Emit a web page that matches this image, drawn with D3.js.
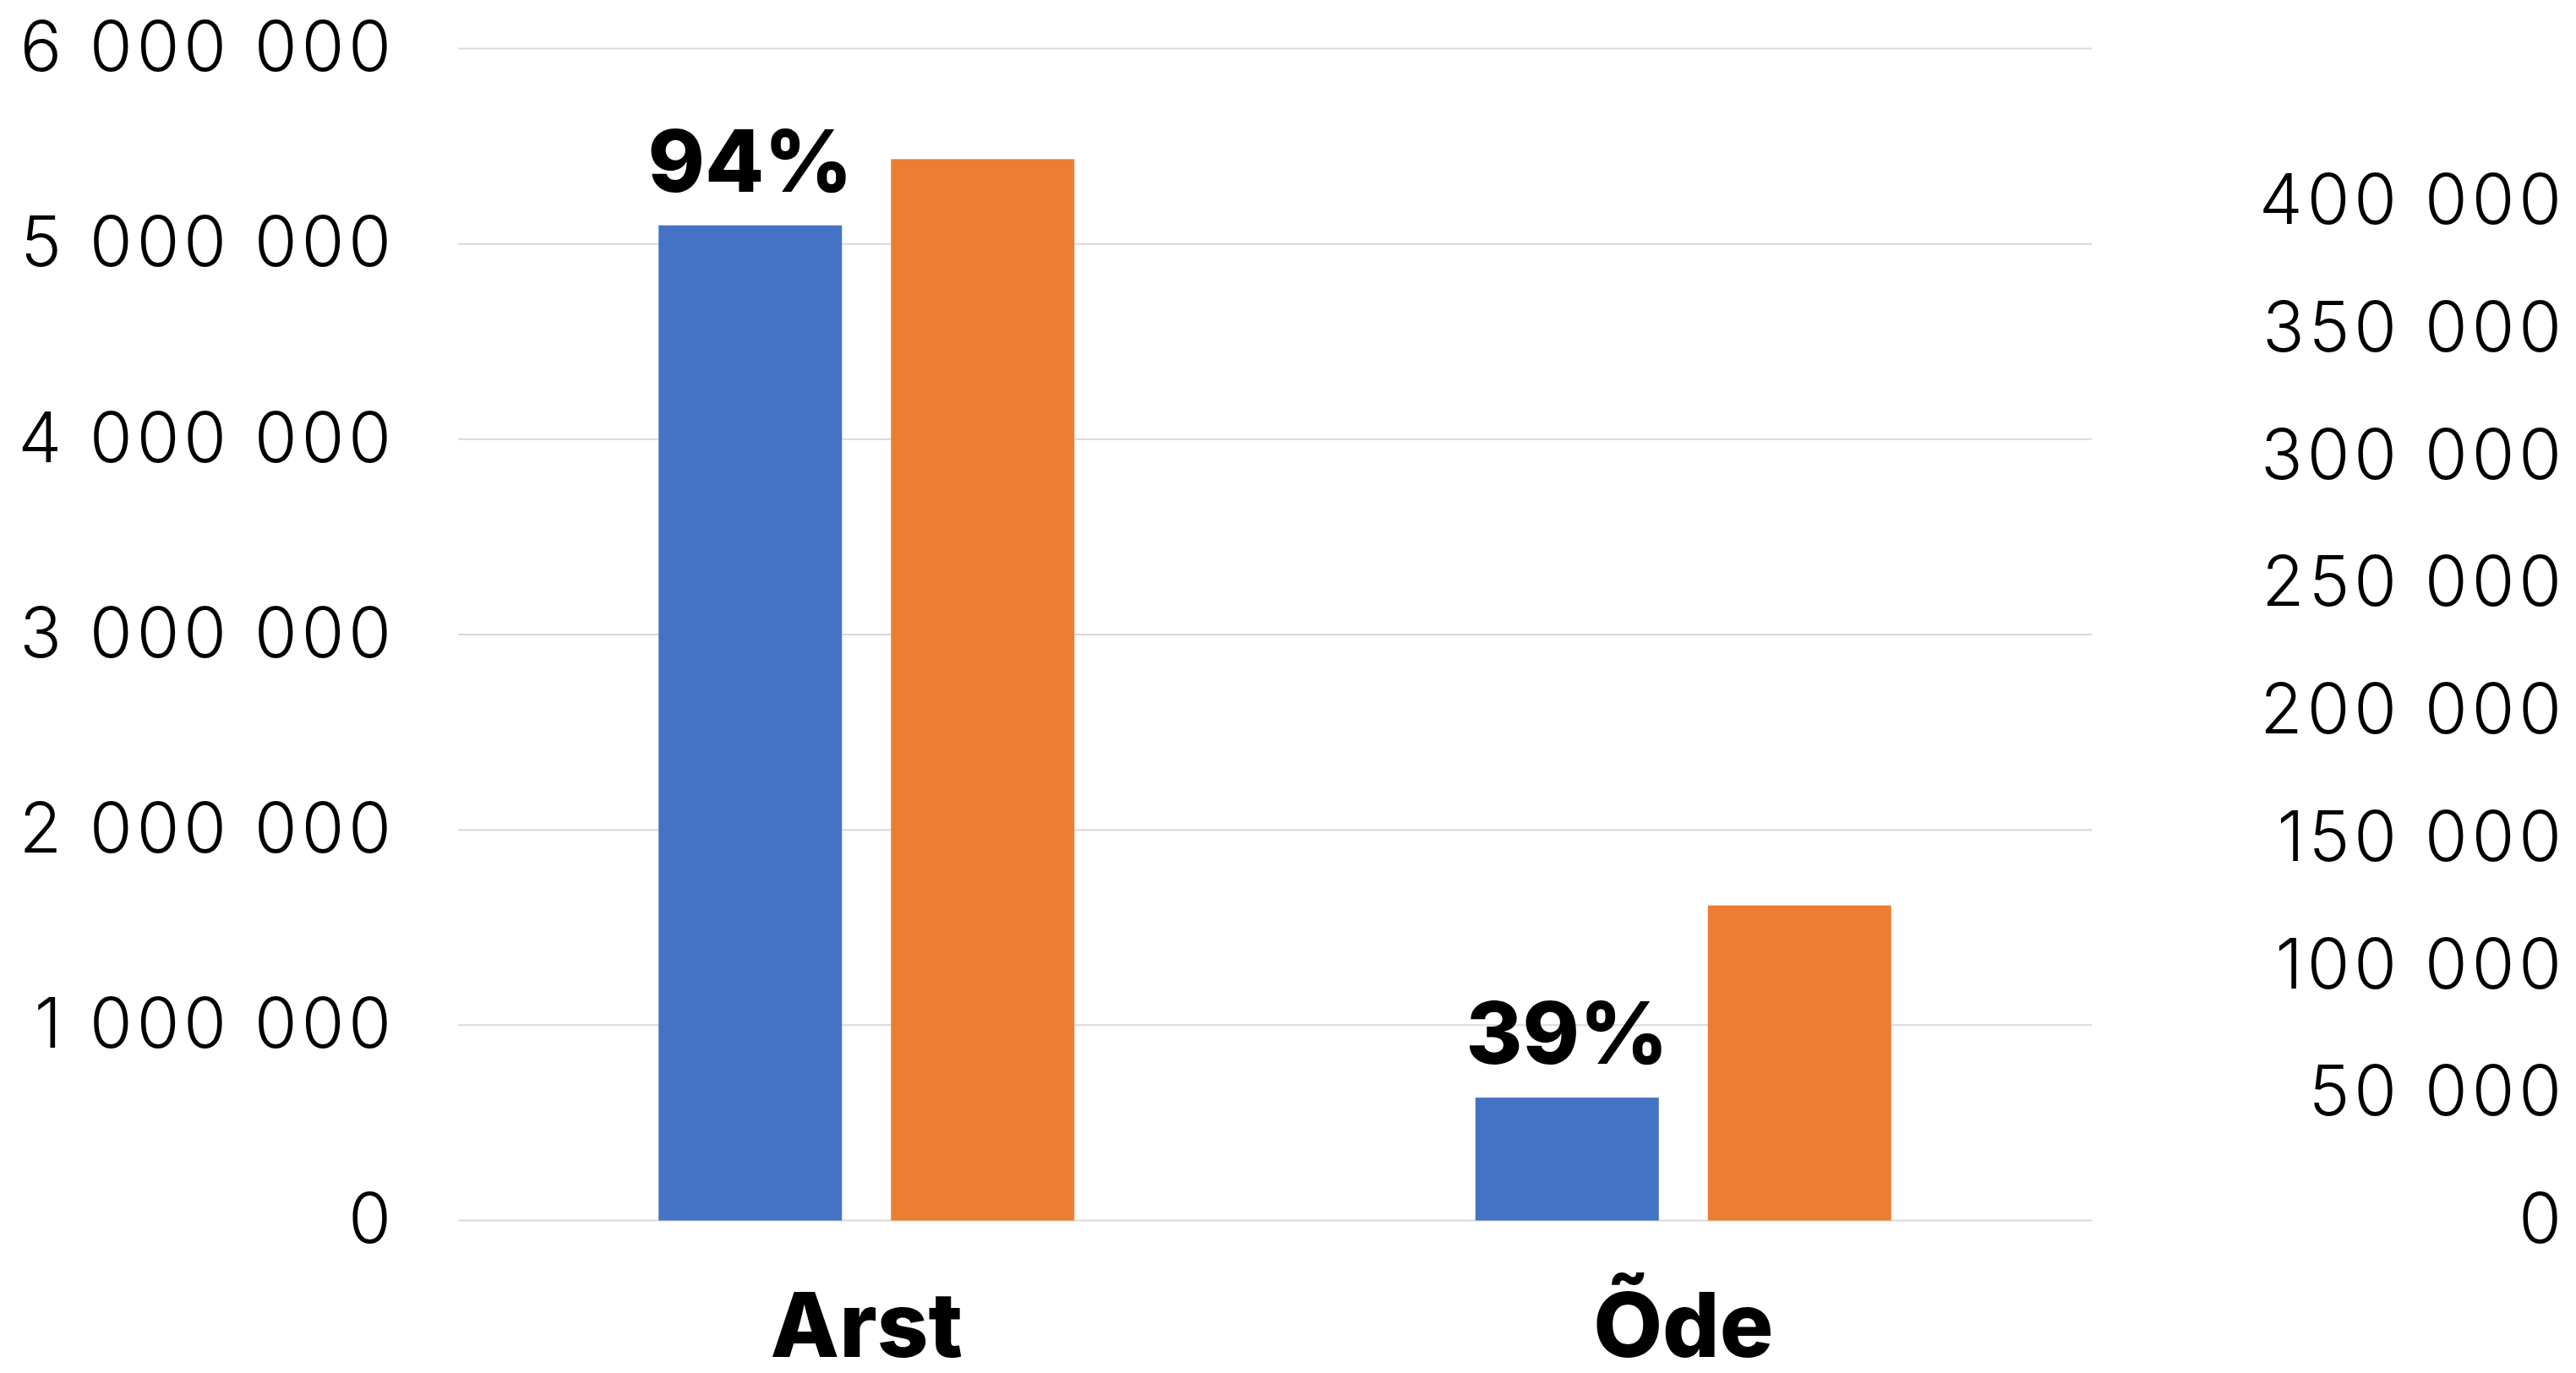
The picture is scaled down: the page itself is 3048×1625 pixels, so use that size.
<!DOCTYPE html>
<html>
<head>
<meta charset="utf-8">
<script src="https://cdn.jsdelivr.net/npm/d3@7"></script>
<style>
  html, body { margin: 0; padding: 0; background: #fff; }
  svg text { font-family: Inter, "Noto Sans", sans-serif; }
</style>
</head>
<body>
<div id="chart"></div>
<script>
const categories = ["Arst", "Õde"],
      seriesNames = ["a", "b"],
      seriesA = [5095000, 629000],
      seriesB = [5434000, 1613000],
      pctLabels = ["94%", "39%"],
      leftTicks = [0, 1000000, 2000000, 3000000, 4000000, 5000000, 6000000],
      rightTicks = [0, 50000, 100000, 150000, 200000, 250000, 300000, 350000, 400000];

const colors = {a: "#4472C4", b: "#ED7D31"};

const W = 3048, H = 1625;
const margin = {top: 57.5, right: 573, bottom: 180.5, left: 542};
const width = W - margin.left - margin.right,
      height = H - margin.top - margin.bottom;

const fmt = d3.formatLocale({decimal: ",", thousands: " ", grouping: [3], currency: ["", ""]}).format(",d");

const svg = d3.select("#chart").append("svg")
  .attr("width", W)
  .attr("height", H)
  .append("g")
  .attr("transform", `translate(${margin.left},${margin.top})`);

const x0 = d3.scaleBand().domain(categories).range([0, width]).padding(0);
const groupW = 492;
const x1 = d3.scaleBand().domain(seriesNames).range([0, groupW]).paddingInner(0.211).paddingOuter(0);
const groupOffset = (x0.bandwidth() - groupW) / 2;

const y = d3.scaleLinear().domain([0, 6000000]).range([height, 0]);
const y2 = d3.scaleLinear().domain([0, 460000]).range([height, 0]);

// gridlines
svg.append("g")
  .selectAll("line")
  .data(leftTicks)
  .enter()
  .append("line")
  .attr("x1", 0)
  .attr("x2", width)
  .attr("y1", d => y(d))
  .attr("y2", d => y(d))
  .attr("stroke", "#d9d9d9")
  .attr("stroke-width", 2);

// left axis
const yAxis = svg.append("g")
  .call(d3.axisLeft(y).tickValues(leftTicks).tickSize(0).tickPadding(74).tickFormat(fmt));
yAxis.select(".domain").remove();
yAxis.selectAll("text")
  .attr("font-size", 82)
  .attr("font-weight", 300)
  .attr("letter-spacing", 5)
  .attr("fill", "#000");

// right axis
const yAxisR = svg.append("g")
  .attr("transform", `translate(${3036 - margin.left},0)`)
  .call(d3.axisRight(y2).tickValues(rightTicks).tickSize(0).tickPadding(0).tickFormat(fmt));
yAxisR.select(".domain").remove();
yAxisR.selectAll("text")
  .attr("text-anchor", "end")
  .attr("x", 0)
  .attr("font-size", 82)
  .attr("font-weight", 300)
  .attr("letter-spacing", 5)
  .attr("fill", "#000");

// bars
const rows = categories.map((c, i) => ({cat: c, a: seriesA[i], b: seriesB[i], pct: pctLabels[i]}));

const groups = svg.selectAll(".grp")
  .data(rows)
  .enter()
  .append("g")
  .attr("class", "grp")
  .attr("transform", d => `translate(${x0(d.cat) + groupOffset},0)`);

groups.selectAll("rect")
  .data(d => seriesNames.map(k => ({key: k, value: d[k]})))
  .enter()
  .append("rect")
  .attr("x", d => x1(d.key))
  .attr("y", d => y(d.value))
  .attr("width", x1.bandwidth())
  .attr("height", d => height - y(d.value))
  .attr("fill", d => colors[d.key]);

groups.append("text")
  .attr("x", x1("a") + x1.bandwidth() / 2)
  .attr("y", d => y(d.a) - 40)
  .attr("text-anchor", "middle")
  .attr("font-size", 102)
  .attr("font-weight", 800)
  .attr("fill", "#000")
  .text(d => d.pct);

// category axis
const xAxis = svg.append("g")
  .attr("transform", `translate(0,${height})`)
  .call(d3.axisBottom(x0).tickSize(0).tickPadding(86));
xAxis.select(".domain").remove();
xAxis.selectAll("text")
  .attr("font-size", 106)
  .attr("font-weight", 800)
  .attr("fill", "#000");
</script>
</body>
</html>
